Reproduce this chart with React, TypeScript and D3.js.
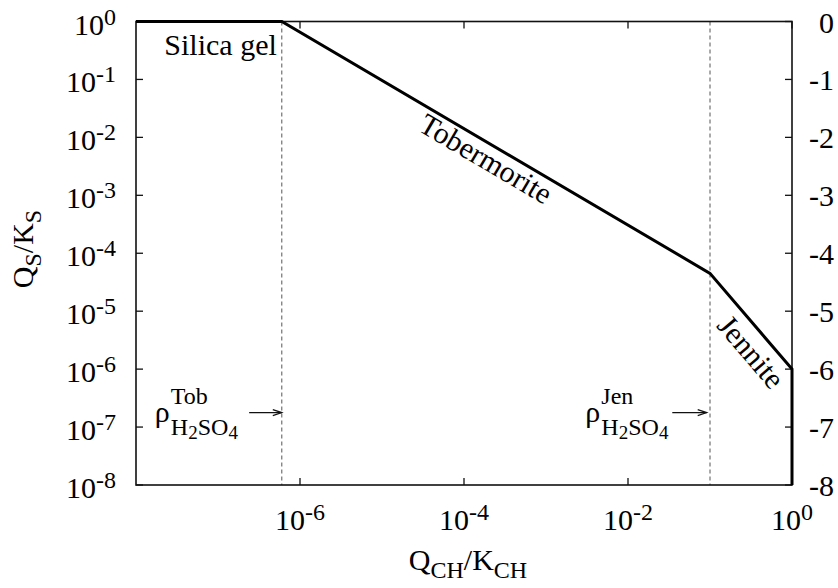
import React from "react";
import * as d3 from "d3";

// ---- data ----
const curveX = [1e-8, 6e-7, 0.1, 1, 1];
const curveY = [1, 1, 4.5e-5, 1e-6, 1e-8];
const boundaryX = [6e-7, 0.1];
const yTickExps = [0, -1, -2, -3, -4, -5, -6, -7, -8];
const xTickExps = [-6, -4, -2, 0];
const y2TickLabels = ["0", "-1", "-2", "-3", "-4", "-5", "-6", "-7", "-8"];
const rhoLabels = [
  { sup: "Tob", x: Math.pow(10, -7.77), arrowFrom: Math.pow(10, -6.62), arrowTo: 6e-7 },
  { sup: "Jen", x: Math.pow(10, -2.52), arrowFrom: Math.pow(10, -1.46), arrowTo: Math.pow(10, -1.04) },
];
const rhoArrowY = Math.pow(10, -6.75);
const rhoBaseY = Math.pow(10, -6.92);

const W = 838;
const H = 588;
const L = 136, R = 792, T = 21.5, B = 485;
const FONT = "Liberation Serif, serif";

export default function App() {
  const x = d3.scaleLog().domain([1e-8, 1]).range([L, R]);
  const y = d3.scaleLog().domain([1e-8, 1]).range([B, T]);
  const pts: [number, number][] = curveX.map((v, i) => [v, curveY[i]]);
  const line = d3.line<[number, number]>().x(d => x(d[0])).y(d => y(d[1]));

  const segLabel = (i: number, frac: number, off: number, text: string) => {
    const x0 = x(curveX[i]), y0 = y(curveY[i]);
    const x1 = x(curveX[i + 1]), y1 = y(curveY[i + 1]);
    const qx = x0 + (x1 - x0) * frac, qy = y0 + (y1 - y0) * frac;
    const ang = (Math.atan2(y1 - y0, x1 - x0) * 180) / Math.PI;
    return (
      <text transform={`translate(${qx},${qy}) rotate(${ang})`} x={0} y={off} textAnchor="middle" fontSize={30}>
        {text}
      </text>
    );
  };

  return (
    <svg width={W} height={H} style={{ position: "absolute", left: 0, top: 0, background: "#fff", fontFamily: FONT }}>
      {/* boundaries */}
      {boundaryX.map((b, i) => (
        <line key={i} x1={x(b)} x2={x(b)} y1={T} y2={B} stroke="#555" strokeWidth={1} strokeDasharray="4,3" />
      ))}
      {/* frame */}
      <rect x={L} y={T} width={R - L} height={B - T} fill="none" stroke="#111" strokeWidth={1.6} />
      {/* y ticks left & right */}
      {yTickExps.map((e, i) => {
        const yy = y(Math.pow(10, e));
        return (
          <g key={i}>
            <line x1={L} x2={L + 7} y1={yy} y2={yy} stroke="#111" strokeWidth={1.3} />
            <line x1={R - 7} x2={R} y1={yy} y2={yy} stroke="#111" strokeWidth={1.3} />
            <text x={116} y={yy + 13} textAnchor="end" fontSize={30}>
              10<tspan fontSize={24} dy={-10}>{String(e)}</tspan>
            </text>
            <text x={834} y={yy + 11} textAnchor="end" fontSize={30}>{y2TickLabels[i]}</text>
          </g>
        );
      })}
      {/* x ticks */}
      {xTickExps.map((e, i) => {
        const xx = x(Math.pow(10, e));
        return (
          <g key={i}>
            <line x1={xx} x2={xx} y1={B} y2={B - 7} stroke="#111" strokeWidth={1.3} />
            <line x1={xx} x2={xx} y1={T} y2={T + 7} stroke="#111" strokeWidth={1.3} />
            <text x={xx} y={B + 45} textAnchor="middle" fontSize={30}>
              10<tspan fontSize={24} dy={-10}>{String(e)}</tspan>
            </text>
          </g>
        );
      })}
      {/* curve */}
      <path d={line(pts) || ""} fill="none" stroke="#000" strokeWidth={3} strokeLinejoin="miter" />
      {/* labels */}
      <text x={x(6e-7) - 5} y={55} textAnchor="end" fontSize={30}>Silica gel</text>
      {segLabel(1, 0.494, 25, "Tobermorite")}
      {segLabel(2, 0.685, 30, "Jennite")}
      {rhoLabels.map((r, i) => {
        const lx = x(r.x);
        const by = y(rhoBaseY);
        const ay = y(rhoArrowY);
        const ax0 = x(r.arrowFrom), ax1 = x(r.arrowTo);
        return (
          <g key={i}>
            <text x={lx} y={by} fontSize={30}>ρ</text>
            <text x={lx + 16} y={by - 18} fontSize={24}>{r.sup}</text>
            <text x={lx + 16} y={by + 13} fontSize={24}>
              H<tspan fontSize={19} dy={4}>2</tspan>
              <tspan fontSize={24} dy={-4}>SO</tspan>
              <tspan fontSize={19} dy={4}>4</tspan>
            </text>
            <line x1={ax0} x2={ax1} y1={ay} y2={ay} stroke="#111" strokeWidth={1.2} />
            <path d={`M${ax1 - 9},${ay - 3} L${ax1},${ay} L${ax1 - 9},${ay + 3}`} fill="none" stroke="#111" strokeWidth={1.2} />
          </g>
        );
      })}
      {/* axis titles */}
      <text x={468} y={570} textAnchor="middle" fontSize={30}>
        Q<tspan fontSize={24} dy={8}>CH</tspan>
        <tspan fontSize={30} dy={-8}>/K</tspan>
        <tspan fontSize={24} dy={8}>CH</tspan>
      </text>
      <text transform="translate(33,249) rotate(-90)" x={0} y={0} textAnchor="middle" fontSize={30}>
        Q<tspan fontSize={24} dy={8}>S</tspan>
        <tspan fontSize={30} dy={-8}>/K</tspan>
        <tspan fontSize={24} dy={8}>S</tspan>
      </text>
    </svg>
  );
}
